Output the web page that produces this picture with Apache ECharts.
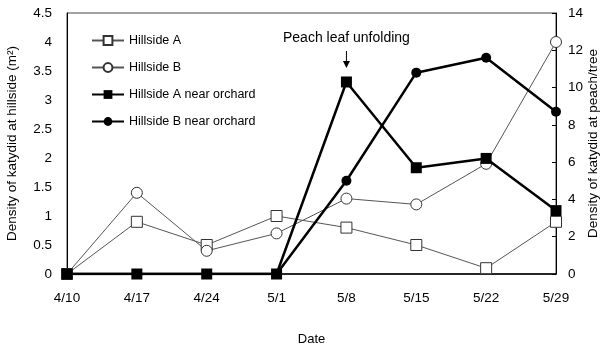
<!DOCTYPE html>
<html>
<head>
<meta charset="utf-8">
<script src="https://cdn.jsdelivr.net/npm/echarts@6/dist/echarts.min.js"></script>
<style>
  html, body { margin: 0; padding: 0; background: #fff; }
  #main { width: 600px; height: 348px; }
</style>
</head>
<body>
<div id="main"></div>
<script>
// dates along the x axis
var dates = ['4/10', '4/17', '4/24', '5/1', '5/8', '5/15', '5/22', '5/29'];
// left axis: density at hillside (m2)
var hillsideA = [0, 0.9, 0.5, 1.0, 0.8, 0.5, 0.1, 0.9];
var hillsideB = [0, 1.4, 0.4, 0.7, 1.3, 1.2, 1.9, 4.0];
// right axis: density at peach/tree
var nearOrchardA = [0, 0, 0, 0, 10.3, 5.7, 6.2, 3.4];
var nearOrchardB = [0, 0, 0, 0, 5.0, 10.8, 11.6, 8.7];
var eventLabel = 'Peach leaf unfolding';
var eventDate = '5/8';

var font = 'Liberation Sans, Arial, sans-serif';
var chart = echarts.init(document.getElementById('main'));

chart.setOption({
  animation: false,
  textStyle: { fontFamily: font },
  grid: {
    left: 67, right: 44, top: 13, bottom: 74,
    outerBoundsMode: 'none',
    containLabel: false,
    show: true, borderColor: '#444', borderWidth: 1
  },
  legend: {
    orient: 'vertical',
    left: 86, top: 29,
    itemWidth: 32, itemHeight: 11, itemGap: 14,
    textStyle: { fontFamily: font, fontSize: 12.5, color: '#000' },
    data: ['Hillside A', 'Hillside B', 'Hillside A near orchard', 'Hillside B near orchard']
  },
  xAxis: {
    type: 'category',
    data: dates,
    boundaryGap: false,
    name: 'Date',
    nameLocation: 'middle',
    nameGap: 59,
    nameTextStyle: { fontSize: 13, color: '#000' },
    axisLine: { lineStyle: { color: '#000', width: 1.5 } },
    axisTick: { show: false },
    axisLabel: { fontSize: 13.5, color: '#000', margin: 17 }
  },
  yAxis: [{
    type: 'value',
    min: 0, max: 4.5, interval: 0.5,
    name: 'Density of katydid at hillside (m\u00B2)',
    nameLocation: 'middle',
    nameRotate: 90,
    nameGap: 48,
    nameTextStyle: { fontSize: 13.5, color: '#000' },
    axisLine: { show: true, lineStyle: { color: '#000' } },
    axisTick: { show: false },
    splitLine: { show: false },
    axisLabel: { fontSize: 13.5, color: '#000', margin: 15 }
  }, {
    type: 'value',
    min: 0, max: 14, interval: 2,
    name: 'Density of katydid at peach/tree',
    nameLocation: 'middle',
    nameRotate: 90,
    nameGap: 37,
    nameMoveOverlap: false,
    nameTextStyle: { fontSize: 13.5, color: '#000', verticalAlign: 'middle' },
    axisLine: { show: true, lineStyle: { color: '#000' } },
    axisTick: { show: true, inside: true, length: 4, lineStyle: { color: '#000' } },
    splitLine: { show: false },
    axisLabel: { fontSize: 13.5, color: '#000', margin: 12 }
  }],
  series: [{
    name: 'Hillside A',
    type: 'line',
    yAxisIndex: 0,
    data: hillsideA,
    symbol: 'rect', symbolSize: 11,
    lineStyle: { color: '#555', width: 1 },
    itemStyle: { color: '#fff', borderColor: '#333', borderWidth: 1 },
    z: 2
  }, {
    name: 'Hillside B',
    type: 'line',
    yAxisIndex: 0,
    data: hillsideB,
    symbol: 'circle', symbolSize: 11,
    lineStyle: { color: '#555', width: 1 },
    itemStyle: { color: '#fff', borderColor: '#333', borderWidth: 1 },
    z: 2
  }, {
    name: 'Hillside A near orchard',
    type: 'line',
    yAxisIndex: 1,
    data: nearOrchardA,
    symbol: 'rect', symbolSize: 11,
    lineStyle: { color: '#000', width: 2.5 },
    itemStyle: { color: '#000' },
    z: 4
  }, {
    name: 'Hillside B near orchard',
    type: 'line',
    yAxisIndex: 1,
    data: nearOrchardB,
    symbol: 'circle', symbolSize: 10,
    lineStyle: { color: '#000', width: 2.5 },
    itemStyle: { color: '#000' },
    z: 3
  }]
});

// annotation above the 5/8 point, placed through the axis scales
var idx = dates.indexOf(eventDate);
var pt = chart.convertToPixel({ xAxisIndex: 0, yAxisIndex: 1 }, [idx, nearOrchardA[idx]]);
var x = pt[0];
var tip = pt[1] - 14;
chart.setOption({
  graphic: [{
    type: 'text',
    x: x, y: tip - 30,
    style: {
      text: eventLabel, fill: '#000',
      font: '14px ' + font, align: 'center', verticalAlign: 'middle'
    }
  }, {
    type: 'line',
    shape: { x1: x, y1: tip - 17, x2: x, y2: tip - 3 },
    style: { stroke: '#000', lineWidth: 1 }
  }, {
    type: 'polygon',
    shape: { points: [[x - 3.5, tip - 7], [x + 3.5, tip - 7], [x, tip]] },
    style: { fill: '#000' }
  }]
});
</script>
</body>
</html>
